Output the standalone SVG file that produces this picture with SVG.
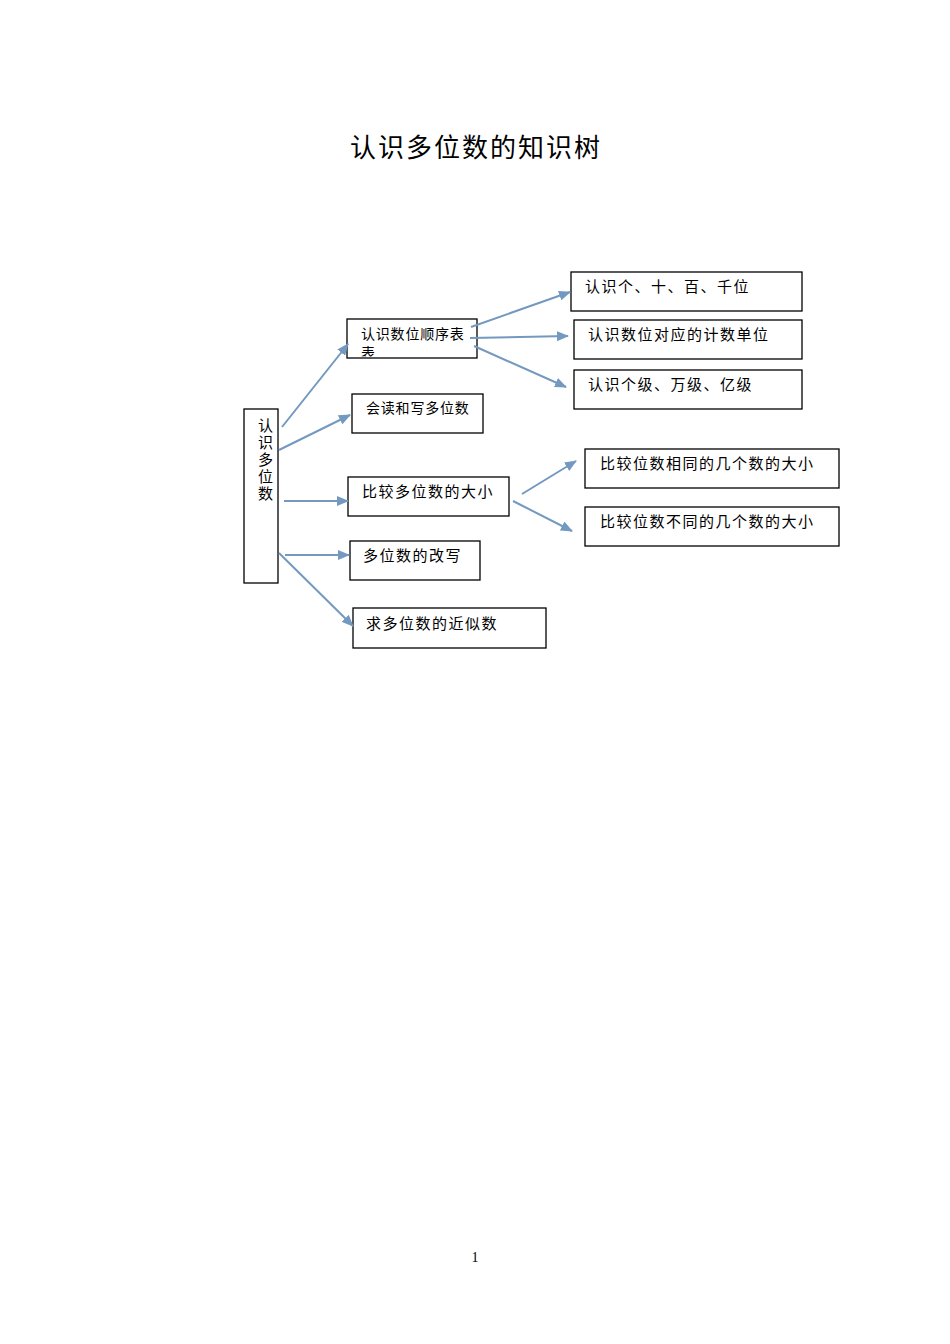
<svg xmlns="http://www.w3.org/2000/svg" width="950" height="1344" viewBox="0 0 950 1344">
<style>
.box{fill:#fff;stroke:#000;stroke-width:1.3}
.t{font-family:"Liberation Serif","Noto Sans CJK SC",serif;font-size:15px;letter-spacing:1.5px;fill:#000}
.s{font-size:14px;letter-spacing:0.8px}
.c{fill:none;stroke:#7399c0;stroke-width:2;marker-end:url(#ah)}
</style>
<defs>
<marker id="ah" markerUnits="userSpaceOnUse" markerWidth="12" markerHeight="10" refX="11" refY="5" orient="auto">
<path d="M0,0 L12,5 L0,10 Z" fill="#7399c0"/>
</marker>
<clipPath id="clipSeq"><rect x="347" y="319" width="130" height="37.5"/></clipPath>
</defs>
<rect width="950" height="1344" fill="#fff"/>
<text x="476" y="157" text-anchor="middle" font-family="Liberation Serif,'Noto Sans CJK SC',serif" font-size="26" letter-spacing="2">认识多位数的知识树</text>

<g id="root">
<rect class="box" x="244" y="409" width="34" height="174"/>
<text class="t" x="258" y="431">认</text>
<text class="t" x="258" y="448">识</text>
<text class="t" x="258" y="465">多</text>
<text class="t" x="258" y="482">位</text>
<text class="t" x="258" y="499">数</text>
</g>
<g id="n-seq">
<rect class="box" x="347" y="319" width="130" height="39"/>
<g clip-path="url(#clipSeq)">
<text class="t s" x="361" y="339">认识数位顺序表</text>
<text class="t s" x="361" y="357.5">表</text>
</g>
</g>
<g id="n-read">
<rect class="box" x="352" y="394" width="131" height="39"/>
<text class="t s" x="366" y="413">会读和写多位数</text>
</g>
<g id="n-compare">
<rect class="box" x="348" y="477" width="161" height="39"/>
<text class="t" x="362" y="497">比较多位数的大小</text>
</g>
<g id="n-rewrite">
<rect class="box" x="350" y="541" width="130" height="39"/>
<text class="t" x="363" y="561">多位数的改写</text>
</g>
<g id="n-approx">
<rect class="box" x="353" y="608" width="193" height="40"/>
<text class="t" x="366" y="629">求多位数的近似数</text>
</g>
<g id="n-place">
<rect class="box" x="571" y="272" width="231" height="39"/>
<text class="t" x="585" y="292">认识个、十、百、千位</text>
</g>
<g id="n-unit">
<rect class="box" x="574" y="320" width="228" height="39"/>
<text class="t" x="588" y="340">认识数位对应的计数单位</text>
</g>
<g id="n-level">
<rect class="box" x="574" y="370" width="228" height="39"/>
<text class="t" x="588" y="390">认识个级、万级、亿级</text>
</g>
<g id="n-same">
<rect class="box" x="585" y="449" width="254" height="39"/>
<text class="t" x="600" y="469">比较位数相同的几个数的大小</text>
</g>
<g id="n-diff">
<rect class="box" x="585" y="507" width="254" height="39"/>
<text class="t" x="600" y="527">比较位数不同的几个数的大小</text>
</g>

<g id="connectors">
<line class="c" x1="282" y1="427" x2="348" y2="344"/>
<line class="c" x1="279" y1="450" x2="350" y2="415"/>
<line class="c" x1="284" y1="501" x2="348" y2="501"/>
<line class="c" x1="285" y1="555" x2="349" y2="555"/>
<line class="c" x1="279" y1="553" x2="353" y2="626"/>
<line class="c" x1="471" y1="327" x2="570" y2="292"/>
<line class="c" x1="470" y1="338" x2="568" y2="336"/>
<line class="c" x1="474" y1="346" x2="566" y2="387"/>
<line class="c" x1="522" y1="494" x2="576" y2="461"/>
<line class="c" x1="513" y1="501" x2="572" y2="531"/>
</g>
<text x="475" y="1262" text-anchor="middle" font-family="Liberation Serif,serif" font-size="14">1</text>
</svg>
